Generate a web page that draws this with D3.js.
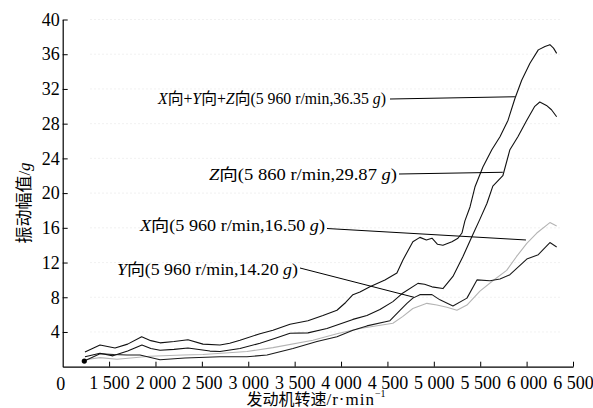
<!DOCTYPE html>
<html>
<head>
<meta charset="utf-8">
<script src="https://cdn.jsdelivr.net/npm/d3@7"></script>
<style>
  body { margin: 0; background: #fff; }
  svg { font-family: "Liberation Serif", "Noto Sans CJK SC", serif; }
</style>
</head>
<body>
<svg id="chart" width="593" height="408"></svg>
<script>
// tick labels
const rpmTicks = [1500, 2000, 2500, 3000, 3500, 4000, 4500, 5000, 5500, 6000, 6500];
const gTicks = [4, 8, 12, 16, 20, 24, 28, 32, 36, 40];

// series: [rpm, g]
const sumXYZ = [[1240,1.7],[1402,2.5],[1564,2.15],[1700,2.6],[1851,3.45],[1950,3.0],[2049,2.75],[2200,2.9],[2350,3.1],[2512,2.6],[2695,2.5],[2800,2.7],[2911,3.05],[3126,3.8],[3266,4.2],[3450,4.9],[3643,5.3],[3805,5.9],[3956,6.5],[4050,7.4],[4128,8.3],[4204,8.6],[4311,9.2],[4473,10.0],[4602,10.8],[4667,12.3],[4774,14.4],[4850,14.9],[4920,14.6],[4980,14.8],[5040,14.1],[5098,14.0],[5195,14.4],[5260,14.8],[5303,15.4],[5335,16.8],[5390,18.4],[5443,20.7],[5529,23.0],[5625,25.0],[5713,26.5],[5800,28.4],[5874,30.9],[5947,33.0],[6036,34.95],[6126,36.5],[6198,36.9],[6251,37.1],[6290,36.7],[6324,36.1]];
const dirZ = [[1240,1.15],[1402,1.55],[1542,1.25],[1700,1.8],[1854,2.5],[1950,2.1],[2049,1.9],[2200,2.0],[2350,2.15],[2587,1.8],[2695,1.75],[2911,2.1],[3126,2.7],[3300,3.3],[3450,3.85],[3643,3.9],[3848,4.4],[4128,5.45],[4279,5.9],[4419,6.6],[4559,7.5],[4667,8.5],[4829,9.6],[4900,9.5],[4980,9.2],[5098,9.0],[5206,10.4],[5314,12.7],[5411,15.0],[5497,17.0],[5572,18.8],[5636,20.8],[5744,22.0],[5820,25.0],[5906,26.5],[6002,28.4],[6088,30.0],[6142,30.5],[6214,30.1],[6268,29.6],[6324,28.8]];
const dirY = [[1233,0.65],[1402,1.5],[1550,1.4],[1693,1.35],[1833,1.35],[2049,0.8],[2318,1.0],[2695,1.15],[2986,1.15],[3202,1.35],[3482,2.1],[3740,2.9],[3956,3.45],[4128,4.2],[4279,4.7],[4527,5.3],[4635,6.5],[4710,7.3],[4774,7.9],[4850,8.3],[4980,8.3],[5066,7.7],[5206,7.0],[5357,7.9],[5465,10.0],[5605,9.9],[5713,10.1],[5820,10.6],[6002,12.4],[6126,12.9],[6251,14.3],[6324,13.8]];
const dirX = [[1240,0.8],[1402,1.05],[1585,0.85],[1941,1.2],[2296,1.35],[2512,1.4],[2986,1.75],[3266,2.2],[3697,3.05],[3956,3.8],[4204,4.4],[4559,5.0],[4667,5.8],[4774,6.7],[4925,7.3],[5033,7.1],[5141,6.85],[5249,6.5],[5357,7.1],[5497,8.7],[5636,9.9],[5785,11.1],[5892,12.7],[6002,14.2],[6110,15.4],[6251,16.6],[6324,16.2]];

// callouts: label parts (text, italic) and the point on the curve they point to
const calloutParts = [
  [["X",1],["向+",0],["Y",1],["向+",0],["Z",1],["向(5 960 r/min,36.35 ",0],["g",1],[")",0]],
  [["Z",1],["向(5 860 r/min,29.87 ",0],["g",1],[")",0]],
  [["X",1],["向(5 960 r/min,16.50 ",0],["g",1],[")",0]],
  [["Y",1],["向(5 960 r/min,14.20 ",0],["g",1],[")",0]]
];
const calloutTargets = [[5874,31.1],[5744,22.4],[5993,14.6],[4786,8.0]];

const svg = d3.select("#chart");
const x = d3.scaleLinear().domain([1000, 6500]).range([62.7, 573]);
const y = d3.scaleLinear().domain([0, 40]).range([366.7, 19.5]);

// faint grid
svg.append("g").selectAll("line").data(gTicks).join("line")
  .attr("x1", 90).attr("x2", 560)
  .attr("y1", d => y(d)).attr("y2", d => y(d))
  .attr("stroke", "#eeeeee").attr("stroke-width", 0.8)
  .attr("stroke-dasharray", "2,2");

const xAxis = svg.append("g")
  .attr("transform", `translate(0,${y(0)})`)
  .call(d3.axisBottom(x).tickValues(rpmTicks).tickSizeInner(-5).tickSizeOuter(0)
    .tickPadding(10).tickFormat(d => d3.format(",")(d).replace(",", " ")));
const yAxis = svg.append("g")
  .attr("transform", `translate(${x(1000)},0)`)
  .call(d3.axisLeft(y).tickValues(gTicks).tickSizeInner(-5).tickSizeOuter(0).tickPadding(3));

[xAxis, yAxis].forEach(a => {
  a.select(".domain").attr("stroke", "#000").attr("stroke-width", 1.2);
  a.selectAll(".tick line").attr("stroke", "#000");
  a.selectAll("text").attr("font-family", "Liberation Serif").attr("font-size", 18).attr("fill", "#000");
});

svg.append("text")
  .attr("x", x(1000) - 2).attr("y", 389.5)
  .attr("text-anchor", "middle").attr("font-size", 18)
  .text("0");

// axis titles
const xt = svg.append("text")
  .attr("x", 316).attr("y", 404.5)
  .attr("text-anchor", "middle").attr("font-size", 16);
xt.append("tspan").text("发动机转速");
xt.append("tspan").attr("font-size", 17).attr("letter-spacing", 1).text("/r·min");
xt.append("tspan").attr("dy", -8).attr("font-size", 10).text("−1");

const yt = svg.append("text")
  .attr("transform", "translate(30,203) rotate(-90)")
  .attr("text-anchor", "middle").attr("font-size", 17);
yt.append("tspan").text("振动幅值/");
yt.append("tspan").attr("font-style", "italic").text("g");

// curves
const line = d3.line().x(d => x(d[0])).y(d => y(d[1]));
const series = [
  { data: dirX, color: "#b4b4b4" },
  { data: dirY, color: "#1a1a1a" },
  { data: dirZ, color: "#111" },
  { data: sumXYZ, color: "#111" }
];
svg.append("g").selectAll("path").data(series).join("path")
  .attr("d", d => line(d.data))
  .attr("fill", "none")
  .attr("stroke", d => d.color)
  .attr("stroke-width", 1.1)
  .attr("stroke-linejoin", "round");

svg.append("circle")
  .attr("cx", x(dirY[0][0])).attr("cy", y(dirY[0][1]))
  .attr("r", 2.6).attr("fill", "#000");

// callout labels: right end and baseline, fitted width, leader start
const labelEnds = [[386, 104], [397, 180], [325, 231], [298, 275]];
const labelWidths = [228, 188, 185, 181];
const leaderStarts = [[390, 99], [399, 174], [327, 228.5], [300, 268]];

calloutParts.forEach((parts, i) => {
  const t = svg.append("text")
    .attr("x", labelEnds[i][0] - labelWidths[i]).attr("y", labelEnds[i][1])
    .attr("font-size", 16)
    .attr("textLength", labelWidths[i])
    .attr("lengthAdjust", "spacingAndGlyphs");
  parts.forEach(p => {
    t.append("tspan").attr("font-style", p[1] ? "italic" : null).text(p[0]);
  });
  svg.append("line")
    .attr("x1", leaderStarts[i][0]).attr("y1", leaderStarts[i][1])
    .attr("x2", x(calloutTargets[i][0])).attr("y2", y(calloutTargets[i][1]))
    .attr("stroke", "#000").attr("stroke-width", 1);
});
</script>
</body>
</html>
